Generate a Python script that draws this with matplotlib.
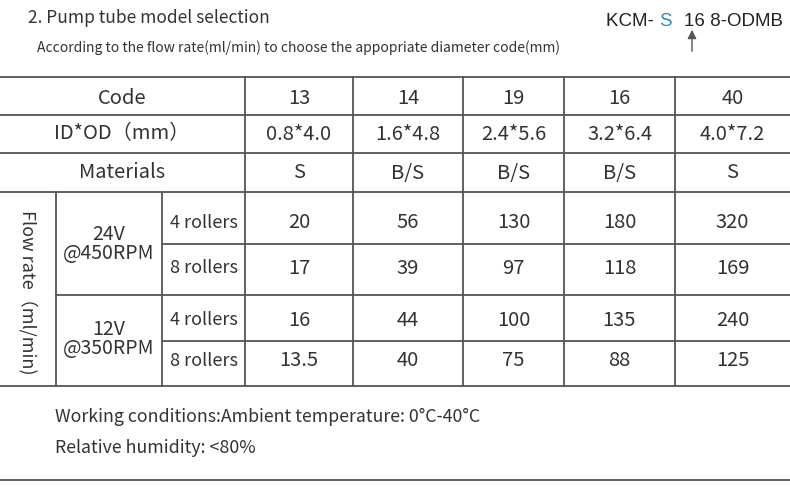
import matplotlib
matplotlib.use("Agg")
import matplotlib.pyplot as plt

codes = ["13", "14", "19", "16", "40"]
id_od = ["0.8*4.0", "1.6*4.8", "2.4*5.6", "3.2*6.4", "4.0*7.2"]
materials = ["S", "B/S", "B/S", "B/S", "S"]
flow_24v_4r = ["20", "56", "130", "180", "320"]
flow_24v_8r = ["17", "39", "97", "118", "169"]
flow_12v_4r = ["16", "44", "100", "135", "240"]
flow_12v_8r = ["13.5", "40", "75", "88", "125"]

plt.rcParams['font.family'] = ['Noto Sans CJK SC', 'DejaVu Sans']
fig = plt.figure(figsize=(7.9, 4.91), dpi=100)
ax = fig.add_axes([0, 0, 1, 1])
ax.set_xlim(0, 790); ax.set_ylim(491, 0); ax.axis('off')
TC = '#333333'; LC = '#555555'; LW = 1.3
fs = 14.5

def hl(y, x0=0, x1=790): ax.plot([x0, x1], [y, y], color=LC, lw=LW)
def vl(x, y0, y1): ax.plot([x, x], [y0, y1], color=LC, lw=LW)

colx = [245, 353, 463, 564, 675, 790]
for y in [77, 115, 153, 192, 295, 386]:
    hl(y, 56 if y == 295 else 0)
hl(244, 162); hl(341, 162)
hl(480)
for x in colx[:-1]:
    vl(x, 77, 386)
vl(56, 192, 386); vl(162, 192, 386)

def t(x, y, s, **kw):
    kw.setdefault('fontsize', fs)
    ax.text(x, y, s, ha='center', va='center', color=TC, **kw)

t(122, 98, "Code"); t(122, 134, "ID*OD（mm）"); t(122, 173, "Materials")
centers = [(colx[i] + colx[i + 1]) / 2 for i in range(5)]
rowdata = [codes, id_od, materials, flow_24v_4r, flow_24v_8r, flow_12v_4r, flow_12v_8r]
ycent = [98, 134, 173, 223, 268, 320, 361]
for vals, y in zip(rowdata, ycent):
    for cx, v in zip(centers, vals):
        t(cx, y, v)
for y, s in zip([223, 268, 320, 361], ["4 rollers", "8 rollers", "4 rollers", "8 rollers"]):
    t(204, y, s, fontsize=13)
t(109, 244, "24V\n@450RPM", linespacing=0.9, fontsize=14)
t(109, 339, "12V\n@350RPM", linespacing=0.9, fontsize=14)
t(28, 292, "Flow rate（ml/min)", rotation=-90, fontsize=13)

ax.text(28, 18, "2. Pump tube model selection", fontsize=12.5, color=TC, va='center')
ax.text(37, 48, "According to the flow rate(ml/min) to choose the appopriate diameter code(mm)",
        fontsize=10, color=TC, va='center')
ax.text(606, 21, "KCM- ", fontsize=13.5, color='#222222', va='center', family='Liberation Sans')
ax.text(659, 21, "S", fontsize=13.5, color='#2a8fc0', va='center', family='Liberation Sans')
ax.text(684, 21, "16 8-ODMB", fontsize=13.5, color='#222222', va='center', family='Liberation Sans')
ax.annotate("", xy=(692, 27), xytext=(692, 54),
            arrowprops=dict(arrowstyle='-|>', color='#555555', lw=1, mutation_scale=13))

ax.text(55, 417, "Working conditions:Ambient temperature: 0°C-40°C", fontsize=12.8, color=TC, va='center')
ax.text(55, 448, "Relative humidity: <80%", fontsize=12.8, color=TC, va='center')

fig.savefig("out.png", dpi=100)
